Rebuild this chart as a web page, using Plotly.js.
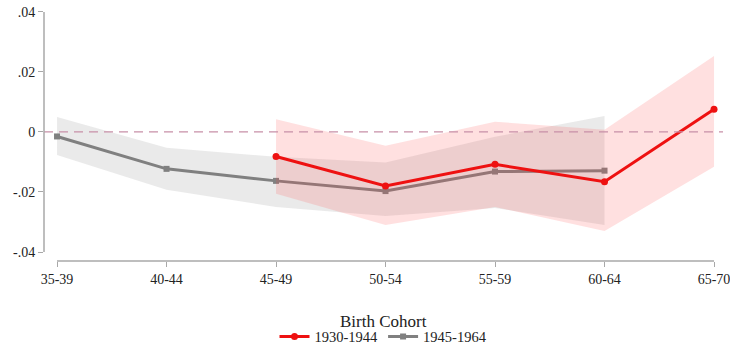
<!DOCTYPE html>
<html>
<head>
<meta charset="utf-8">
<script src="https://cdn.plot.ly/plotly-3.0.1.min.js"></script>
<style>html,body{margin:0;padding:0;background:#fff;}#chart{width:730px;height:349px;}</style>
</head>
<body>
<div id="chart"></div>
<script>
// Age groups along the x axis
const ageGroups = ["35-39", "40-44", "45-49", "50-54", "55-59", "60-64", "65-70"];

// Cohort 1930-1944 (observed from age 45-49 onward)
const olderAges  = ["45-49", "50-54", "55-59", "60-64", "65-70"];
const olderEst   = [-0.0082, -0.0180, -0.0108, -0.0166, 0.0076];
const olderUpper = [ 0.0042, -0.0046,  0.0034,  0.0007, 0.0253];
const olderLower = [-0.0206, -0.0310, -0.0250, -0.0330, -0.0116];

// Cohort 1945-1964 (observed up to age 60-64)
const youngerAges  = ["35-39", "40-44", "45-49", "50-54", "55-59", "60-64"];
const youngerEst   = [-0.0015, -0.0123, -0.0163, -0.0197, -0.0132, -0.0129];
const youngerUpper = [ 0.0050, -0.0053, -0.0083, -0.0102, -0.0016,  0.0053];
const youngerLower = [-0.0077, -0.0193, -0.0250, -0.0280, -0.0253, -0.0310];

// Y tick labels
const yTickVals = [0.04, 0.02, 0, -0.02, -0.04];
const yTickText = [".04", ".02", "0", "-.02", "-.04"];

const serif = "Liberation Serif";

function band(xs, up, lo, color) {
  return {
    x: xs.concat(xs.slice().reverse()),
    y: up.concat(lo.slice().reverse()),
    type: "scatter", mode: "lines", fill: "toself",
    fillcolor: color, line: {width: 0}, hoverinfo: "skip", showlegend: false
  };
}

const traces = [
  band(youngerAges, youngerUpper, youngerLower, "rgba(150,150,150,0.2)"),
  {
    x: youngerAges, y: youngerEst, type: "scatter", mode: "lines+markers",
    name: "1945-1964", line: {color: "#808080", width: 3},
    marker: {symbol: "square", size: 6, color: "#808080"}
  },
  band(olderAges, olderUpper, olderLower, "rgba(255,70,70,0.17)"),
  {
    x: olderAges, y: olderEst, type: "scatter", mode: "lines+markers",
    name: "1930-1944", line: {color: "#ee1111", width: 3},
    marker: {symbol: "circle", size: 7, color: "#ee1111"}
  }
];

const axisGray = "#a8a8a8";

const layout = {
  width: 730, height: 349,
  margin: {l: 44, r: 7, t: 8, b: 88, autoexpand: false},
  paper_bgcolor: "#fff", plot_bgcolor: "#fff",
  font: {family: serif, size: 14, color: "#222"},
  showlegend: true,
  legend: {
    orientation: "h", x: 0.5, xanchor: "center", y: -0.235, yanchor: "top",
    traceorder: "reversed",
    font: {family: serif, size: 14.5, color: "#222"},
    itemwidth: 30
  },
  annotations: [
    {text: "Birth Cohort", xref: "paper", yref: "paper", x: 0.5, y: -0.241,
     xanchor: "center", yanchor: "middle", showarrow: false,
     font: {family: serif, size: 17, color: "#222"}}
  ],
  xaxis: {
    type: "category", categoryorder: "array", categoryarray: ageGroups,
    range: [-0.119, 6.082],
    showgrid: false, zeroline: false, showline: false,
    ticks: "outside", ticklen: 5, tickcolor: axisGray, tickwidth: 1,
    tickfont: {family: serif, size: 14, color: "#222"}
  },
  yaxis: {
    range: [-0.043, 0.0413],
    tickvals: yTickVals, ticktext: yTickText,
    showgrid: false, zeroline: false, showline: false,
    ticks: "outside", ticklen: 5, tickcolor: axisGray, tickwidth: 1,
    tickfont: {family: serif, size: 14, color: "#222"}
  },
  shapes: [
    // dashed reference line at zero
    {type: "line", xref: "paper", yref: "y", x0: 0, x1: 1, y0: 0, y1: 0,
     line: {color: "#c890a8", width: 1.3, dash: "9px,6px"}, layer: "above"},
    // y axis spine spanning the tick range
    {type: "line", xref: "paper", yref: "y", x0: 0, x1: 0, y0: -0.04, y1: 0.04,
     line: {color: axisGray, width: 1.5}},
    // x axis spine spanning the first to last category
    {type: "line", xref: "x", yref: "paper", x0: 0, x1: 6, y0: 0, y1: 0,
     line: {color: axisGray, width: 1.5}}
  ]
};

Plotly.newPlot("chart", traces, layout, {displayModeBar: false, staticPlot: true});
</script>
</body>
</html>
